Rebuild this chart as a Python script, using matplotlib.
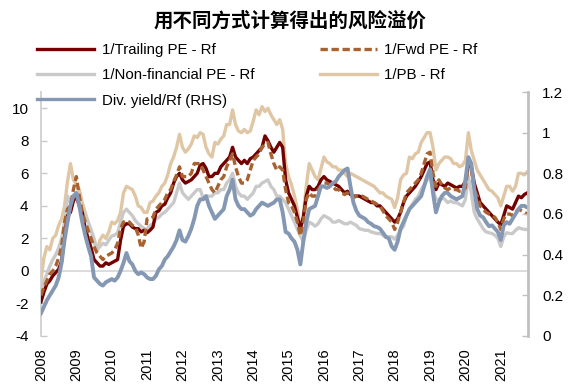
import matplotlib
matplotlib.use('Agg')
import matplotlib.pyplot as plt
from matplotlib.lines import Line2D
import numpy as np

plt.rcParams['font.family'] = ['Liberation Sans', 'Noto Sans CJK SC', 'DejaVu Sans']

title = '用不同方式计算得出的风险溢价'
start_year = 2008
year_ticks = list(range(2008, 2022))
year_labels = [str(y) for y in year_ticks]
left_ticks = [-4, -2, 0, 2, 4, 6, 8, 10]
right_ticks = [0, 0.2, 0.4, 0.6, 0.8, 1.0, 1.2]
right_labels = ['0', '0.2', '0.4', '0.6', '0.8', '1', '1.2']

labels = ['1/Trailing PE - Rf', '1/Fwd PE - Rf', '1/Non-financial PE - Rf',
          '1/PB - Rf', 'Div. yield/Rf (RHS)']

# monthly values, Jan 2008 .. Oct 2021
trailing = [
    -1.9, -1.3, -0.8, -0.6, -0.3, -0.1, 0.1, 0.6, 2.1, 3.4, 3.6, 4.3,
    4.6, 4.0, 3.6, 2.6, 2.0, 1.4, 0.7, 0.5, 0.3, 0.3, 0.5, 0.4,
    0.5, 0.6, 0.7, 1.9, 2.75, 2.9, 2.9, 2.7, 2.6, 2.6, 2.4, 2.5,
    2.35, 2.5, 2.7, 3.6, 3.7, 4.0, 4.1, 4.5, 4.8, 5.4, 5.8, 6.0,
    5.6, 5.4, 5.5, 5.6, 5.8, 6.0, 6.5, 6.6, 6.3, 5.8, 5.8, 6.0,
    6.0, 6.4, 6.6, 6.8, 7.0, 7.6, 7.0, 6.8, 6.6, 6.8, 6.6, 6.9,
    7.0, 7.2, 7.4, 7.6, 8.3, 8.0, 7.6, 7.3, 7.6, 7.9, 7.6, 5.6,
    4.8, 4.4, 4.0, 3.3, 2.6, 3.3, 4.6, 5.2, 5.0, 5.0, 5.2, 5.6,
    5.8, 5.6, 5.5, 5.4, 5.3, 5.2, 5.0, 4.8, 4.9, 4.7, 4.6, 4.6,
    4.6, 4.5, 4.4, 4.3, 4.2, 4.2, 4.0, 4.0, 3.8, 3.6, 3.4, 3.2,
    3.0, 3.2, 3.6, 4.2, 4.6, 4.8, 5.0, 5.2, 5.5, 5.8, 6.2, 6.6,
    6.7, 5.6, 5.0, 5.4, 5.3, 5.2, 5.4, 5.3, 5.2, 5.1, 5.2, 5.2,
    5.5, 6.6, 6.4, 5.4, 4.8, 4.2, 4.0, 3.8, 3.6, 3.4, 3.2, 3.0,
    2.85, 3.4, 4.0, 3.9, 3.8, 4.2, 4.6, 4.5, 4.7, 4.8]

fwd = [
    -1.5, -1.0, -0.6, -0.2, 0.0, 0.3, 0.8, 1.5, 3.0, 3.8, 4.0, 5.0,
    5.8, 4.6, 3.6, 3.0, 2.5, 2.0, 1.5, 1.1, 0.9, 0.7, 0.9, 1.0,
    1.1, 1.3, 1.7, 2.6, 3.0, 3.1, 3.0, 2.8, 2.7, 2.2, 1.4, 1.8,
    3.2, 3.2, 3.3, 3.8, 4.0, 4.2, 4.4, 4.8, 5.0, 5.5, 5.9, 6.4,
    5.8, 5.8, 5.8, 6.0, 6.6, 6.6, 6.6, 6.2, 5.8, 5.4, 5.0, 4.8,
    5.2, 5.6, 5.8, 6.4, 6.8, 7.2, 6.4, 5.8, 5.4, 5.4, 5.6, 6.2,
    6.8, 7.0, 7.2, 7.6, 7.8, 7.9, 7.2, 6.6, 6.2, 6.4, 6.2, 5.0,
    4.2, 4.0, 3.6, 3.0, 2.15, 3.0, 4.4, 4.8, 4.6, 4.6, 5.0, 5.2,
    5.4, 5.4, 5.3, 5.2, 5.0, 5.0, 4.8, 4.7, 4.8, 4.6, 4.5, 4.6,
    4.6, 4.6, 4.5, 4.4, 4.3, 4.2, 4.1, 4.0, 3.7, 3.4, 3.2, 3.0,
    2.55, 3.0, 3.6, 4.2, 4.8, 5.0, 5.2, 5.4, 5.6, 6.0, 6.6, 7.2,
    7.3, 6.0, 5.2, 5.6, 5.3, 5.1, 5.0, 5.1, 5.0, 5.0, 4.9, 4.9,
    5.1, 6.6, 6.2, 5.0, 4.6, 4.0, 3.8, 3.6, 3.5, 3.4, 3.3, 3.0,
    2.55, 3.2, 3.5, 3.5, 3.4, 3.6, 3.8, 3.7, 3.6, 3.5]

nonfin = [
    -1.2, -0.6, -0.2, 0.3, 0.7, 1.0, 1.4, 2.0, 3.0, 4.6, 4.2, 4.4,
    4.6, 4.2, 3.8, 3.4, 3.0, 2.5, 2.0, 1.3, 1.5, 1.7, 1.6, 1.9,
    2.15, 2.2, 2.35, 3.0, 3.6, 3.8, 3.6, 3.4, 3.1, 2.9, 2.75, 2.6,
    2.55, 2.8, 2.9, 3.2, 3.3, 3.5, 3.6, 3.8, 4.0, 4.2, 4.8, 5.4,
    4.8, 4.6, 4.4, 4.6, 4.8, 5.0, 5.0, 4.5, 4.6, 4.6, 4.6, 4.8,
    4.8, 5.0, 5.0, 5.4, 5.6, 6.0, 5.2, 4.8, 4.6, 4.6, 4.4, 4.6,
    4.8, 5.2, 5.2, 5.4, 5.5, 5.6, 5.2, 5.0, 4.6, 4.6, 4.4, 4.2,
    3.8, 3.4, 3.0, 2.55, 2.15, 1.8, 2.5, 3.0, 2.9, 2.75, 2.9, 3.2,
    3.4, 3.3, 3.2, 3.0, 3.0, 3.1, 3.0, 2.9, 2.9, 3.0, 2.9, 2.8,
    2.6, 2.55, 2.5, 2.5, 2.4, 2.35, 2.3, 2.3, 2.2, 2.05, 2.1, 2.1,
    1.95, 2.2, 2.5, 2.75, 3.4, 3.8, 4.1, 4.4, 4.6, 5.0, 5.3, 5.6,
    5.8, 5.0, 4.4, 4.4, 4.5, 4.4, 4.2, 4.3, 4.2, 4.2, 4.1, 4.0,
    4.4, 5.8, 4.8, 3.6, 3.2, 2.9, 2.6, 2.4, 2.35, 2.3, 2.2, 2.0,
    1.5, 2.1, 2.35, 2.3, 2.3, 2.5, 2.65, 2.6, 2.55, 2.55]

pb = [
    -0.5, 0.8, 1.5, 1.3, 2.0, 2.2, 2.8, 3.2, 4.0, 5.5, 6.6, 5.6,
    5.3, 5.0, 4.2, 3.6, 3.0, 2.5, 1.8, 1.2, 1.9, 2.2, 2.0, 2.4,
    3.0, 2.9, 3.1, 3.6, 4.8, 5.2, 5.1, 5.0, 4.6, 4.0, 3.9, 3.6,
    3.6, 4.2, 4.3, 4.6, 4.8, 5.2, 5.4, 5.9, 6.6, 7.0, 7.6, 8.4,
    7.6, 7.3, 7.5, 7.8, 8.3, 8.2, 8.5, 8.4, 7.6, 7.2, 7.0, 7.9,
    7.8, 8.1, 8.3, 9.0, 9.0, 9.9, 9.0, 8.6, 8.5, 8.7, 8.5, 8.6,
    9.2, 9.9, 9.6, 10.1, 9.8, 10.0, 9.6, 9.3, 9.0, 9.3, 8.7, 6.6,
    5.8, 5.3, 4.6, 3.8, 2.5, 3.4, 5.2, 6.6, 6.2, 5.8, 5.6, 6.3,
    7.0, 6.7, 6.6, 6.4, 6.4, 6.2, 6.2, 6.0, 5.8, 6.0, 5.9, 5.8,
    5.7, 5.6, 5.5, 5.4, 5.3, 5.2, 5.0, 4.8, 4.8, 4.6, 4.5, 4.4,
    3.9, 4.5, 5.6, 5.9, 6.0, 7.0, 6.9, 7.2, 7.3, 7.9, 8.2, 8.5,
    8.5, 7.6, 6.2, 6.6, 6.8, 7.0, 7.0, 6.9, 6.6, 6.6, 6.4, 6.5,
    6.8, 8.5, 7.4, 6.8, 6.2, 5.9, 5.6, 5.3, 5.0, 4.9, 4.7, 4.5,
    4.0, 4.6, 5.2, 5.2, 4.9, 5.2, 6.0, 6.0, 5.9, 6.1]

div_yield = [
    0.112, 0.144, 0.176, 0.200, 0.224, 0.248, 0.288, 0.360, 0.472, 0.560, 0.640, 0.688,
    0.704, 0.640, 0.560, 0.496, 0.440, 0.392, 0.288, 0.272, 0.256, 0.248, 0.264, 0.272,
    0.280, 0.272, 0.288, 0.320, 0.360, 0.408, 0.368, 0.352, 0.320, 0.304, 0.312, 0.304,
    0.288, 0.280, 0.280, 0.296, 0.328, 0.344, 0.376, 0.392, 0.416, 0.440, 0.472, 0.520,
    0.472, 0.464, 0.492, 0.528, 0.576, 0.640, 0.672, 0.672, 0.688, 0.640, 0.608, 0.576,
    0.592, 0.608, 0.624, 0.688, 0.720, 0.768, 0.672, 0.640, 0.624, 0.624, 0.608, 0.592,
    0.600, 0.624, 0.640, 0.656, 0.648, 0.640, 0.648, 0.656, 0.672, 0.672, 0.608, 0.512,
    0.504, 0.480, 0.464, 0.424, 0.352, 0.464, 0.560, 0.624, 0.632, 0.640, 0.688, 0.736,
    0.736, 0.728, 0.736, 0.752, 0.760, 0.784, 0.800, 0.816, 0.824, 0.736, 0.656, 0.616,
    0.592, 0.584, 0.576, 0.560, 0.552, 0.540, 0.536, 0.528, 0.508, 0.488, 0.480, 0.440,
    0.424, 0.464, 0.528, 0.560, 0.592, 0.624, 0.640, 0.656, 0.672, 0.688, 0.736, 0.784,
    0.820, 0.704, 0.608, 0.656, 0.688, 0.704, 0.704, 0.688, 0.680, 0.672, 0.680, 0.688,
    0.768, 0.880, 0.848, 0.720, 0.624, 0.592, 0.584, 0.560, 0.540, 0.544, 0.528, 0.512,
    0.472, 0.544, 0.560, 0.552, 0.576, 0.600, 0.624, 0.640, 0.640, 0.632]

months = np.arange(len(trailing))
t = start_year + months / 12.0

c_tr = '#730000'
c_fwd = '#a8612f'
c_nf = '#c9c9c9'
c_pb = '#dfc6a4'
c_dy = '#8598b3'
lw = 2.4

fig = plt.figure(figsize=(5.74, 3.91), dpi=100)
ax = fig.add_axes([0.0714, 0.1407, 0.8485, 0.624])
ax2 = ax.twinx()

ax.axhline(0, color='#d9d9d9', lw=1.3, zorder=1)
ax.plot(t, pb, color=c_pb, lw=lw, zorder=2)
ax.plot(t, nonfin, color=c_nf, lw=lw, zorder=3)
ax.plot(t, trailing, color=c_tr, lw=lw, zorder=4)
ax.plot(t, fwd, color=c_fwd, lw=lw, ls=(0, (2.2, 1.1)), zorder=5)
ax2.plot(t, div_yield, color=c_dy, lw=lw + 0.4)

ax.set_xlim(2008, 2021.77)
ax.set_ylim(-4, 11)
ax2.set_ylim(0, 1.2)

ax.set_yticks(left_ticks)
ax.set_yticklabels([str(v) for v in left_ticks])
ax2.set_yticks(right_ticks)
ax2.set_yticklabels(right_labels)
ax.set_xticks(year_ticks)
ax.set_xticklabels(year_labels, rotation=90)

for s in ['top', 'bottom', 'right']:
    ax.spines[s].set_visible(False)
for s in ['top', 'bottom', 'left']:
    ax2.spines[s].set_visible(False)
ax.spines['left'].set_color('#d0d0d0')
ax.spines['left'].set_linewidth(1.3)
ax2.spines['right'].set_color('#c0c0c0')
ax2.spines['right'].set_linewidth(2.0)

ax.tick_params(axis='y', direction='in', length=4, color='#c8c8c8', width=1,
               labelsize=11, pad=9, labelcolor='black')
ax2.tick_params(axis='y', direction='in', length=4, color='#c0c0c0', width=1,
                labelsize=11, pad=10, labelcolor='black')
ax.tick_params(axis='x', length=0, labelsize=10.5, pad=9)

fig.text(0.5045, 1 - 21 / 391, title, ha='center', va='center',
         fontsize=14, fontweight='bold', family=['Noto Sans CJK SC'])

handles = [
    Line2D([], [], color=c_tr, lw=lw),
    Line2D([], [], color=c_nf, lw=lw),
    Line2D([], [], color=c_dy, lw=lw),
    Line2D([], [], color=c_fwd, lw=lw, ls=(0, (2.2, 1.1))),
    Line2D([], [], color=c_pb, lw=lw),
]
leg_labels = [labels[0], labels[2], labels[4], labels[1], labels[3]]
fig.legend(handles, leg_labels, ncol=2, loc='upper left',
           bbox_to_anchor=(37 / 574, 1 - 43 / 391), frameon=False,
           fontsize=10.8, handlelength=3.8, handletextpad=0.5,
           columnspacing=4.4, labelspacing=0.75, borderpad=0, borderaxespad=0)

fig.savefig('out.png', dpi=100)
